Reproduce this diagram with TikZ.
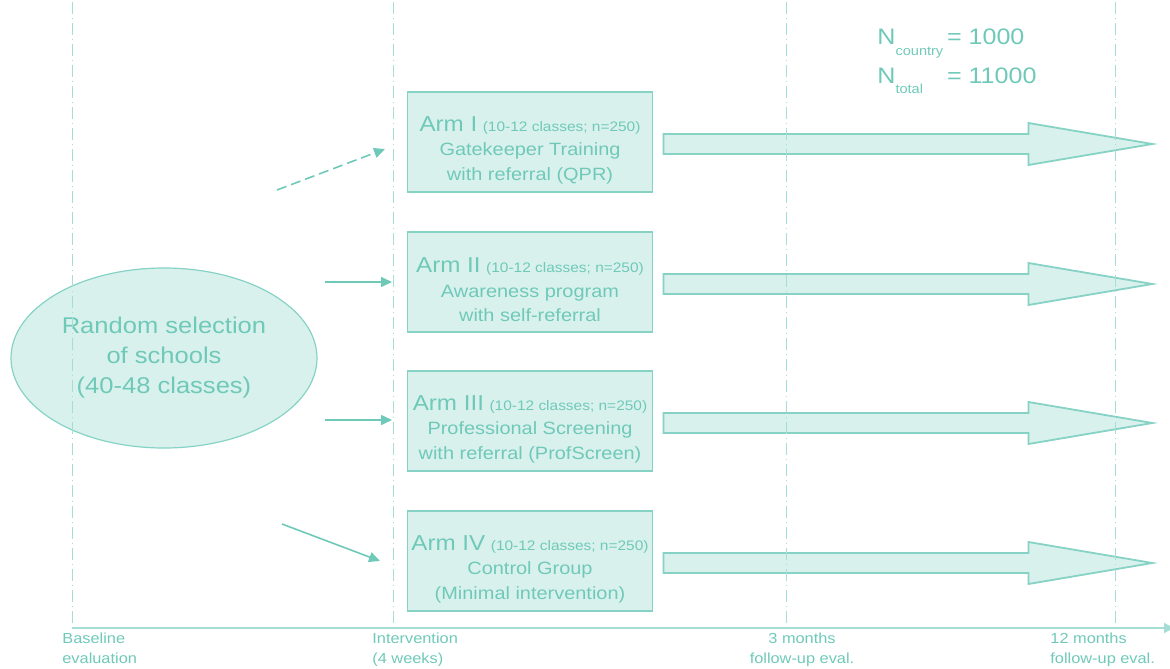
\documentclass[tikz,border=0pt]{standalone}
\usepackage{fontspec}
\setmainfont[FakeStretch=1.12]{Liberation Sans}
\usepackage{xcolor}
\usetikzlibrary{arrows.meta,shapes.geometric,calc}
\definecolor{tealtxt}{HTML}{6FC9B9}
\definecolor{tealln}{HTML}{86D3C6}
\definecolor{tealfill}{HTML}{D9F1ED}
\tikzset{
  arm/.style={draw=tealln,fill=tealfill,line width=0.9pt,minimum width=122.5pt,minimum height=50pt,inner sep=0pt,align=center,text=tealtxt,font=\fontsize{8.9}{12.25}\selectfont},
  pool/.style={ellipse,draw=tealln,fill=tealfill,line width=0.6pt,minimum width=153pt,minimum height=90pt,inner sep=0pt,align=center,text=tealtxt,font=\fontsize{11.4}{15}\selectfont},
  tick/.style={tealln!75,line width=0.5pt,dash pattern=on 6pt off 2pt on 0.5pt off 2pt},
  axis/.style={tealln!75,line width=0.6pt,-{Triangle[length=5pt,width=5pt]}},
  feed/.style={tealtxt,line width=0.8pt,-{Triangle[length=5.5pt,width=5pt]}},
  flow/.style={draw=tealln,fill=tealfill,line width=0.9pt},
  phase/.style={inner sep=0pt,align=left,text=tealtxt,font=\fontsize{7.3}{10}\selectfont}
}
\newcommand{\armhead}[1]{\rule{0pt}{15.5pt}{\fontsize{10.8}{12.25}\selectfont #1}}
\newcommand{\armsize}[1]{{\fontsize{6.9}{12.25}\selectfont #1}}
\newcommand{\flowto}[1]{\draw[flow] ($(#1.east)+(10,-8)$) -- ++(365,0) -- ++(0,-11) -- ++(124,21) -- ++(-124,21) -- ++(0,-11) -- ++(-365,0) -- cycle;}
\newcommand{\subs}[1]{\raisebox{-0.9ex}{\fontsize{6.5}{7}\selectfont #1}}

\begin{document}
\begin{tikzpicture}[x=0.5pt,y=-0.5pt]
\useasboundingbox (0,0) rectangle (1170,668);
% schools and arms
\node[pool] (sel) at (164,358) {Random selection\\of schools\\(40-48 classes)};
\node[arm] (armI) at (530,142) {\armhead{Arm I} \armsize{(10-12 classes; n=250)}\\Gatekeeper Training\\with referral (QPR)};
\node[arm] (armII) at (530,282) {\armhead{Arm II} \armsize{(10-12 classes; n=250)}\\Awareness program\\with self-referral};
\node[arm] (armIII) at (530,421) {\armhead{Arm III} \armsize{(10-12 classes; n=250)}\\Professional Screening\\with referral (ProfScreen)};
\node[arm] (armIV) at (530,561) {\armhead{Arm IV} \armsize{(10-12 classes; n=250)}\\Control Group\\(Minimal intervention)};
% allocation arrows
\coordinate (aI) at (277,190);  \coordinate (bI) at (385,149);
\coordinate (aII) at (325,282); \coordinate (bII) at (392,282);
\coordinate (aIII) at (325,420); \coordinate (bIII) at (392,420);
\coordinate (aIV) at (282,524); \coordinate (bIV) at (380,561);
\draw[feed,dash pattern=on 5pt off 2.5pt] (aI) -- (bI);
\draw[feed] (aII) -- (bII);
\draw[feed] (aIII) -- (bIII);
\draw[feed] (aIV) -- (bIV);
% follow-up arrows
\flowto{armI}
\flowto{armII}
\flowto{armIII}
\flowto{armIV}
% sample size
\node[anchor=north west,inner sep=0pt,text=tealtxt,font=\fontsize{11.2}{18}\selectfont] (nsize) at (877,19)
  {\begin{tabular}{@{}l@{\,}l@{}}N\subs{country} & = 1000\\N\subs{total} & = 11000\end{tabular}};
% time line
\foreach \t in {72,393,786,1115} \draw[tick] (\t,2) -- (\t,626);
\coordinate (t0) at (72,628); \coordinate (tend) at (1174,628);
\draw[axis] (t0) -- (tend);
\node[phase,anchor=north west] (tbase) at (62,633) {Baseline\\evaluation};
\node[phase,anchor=north west] (tint) at (372,633) {Intervention\\(4 weeks)};
\node[phase,anchor=north,align=center] (tthree) at (802,633) {3 months\\follow-up eval.};
\node[phase,anchor=north west] (ttwelve) at (1050,633) {12 months\\follow-up eval.};
\end{tikzpicture}
\end{document}
